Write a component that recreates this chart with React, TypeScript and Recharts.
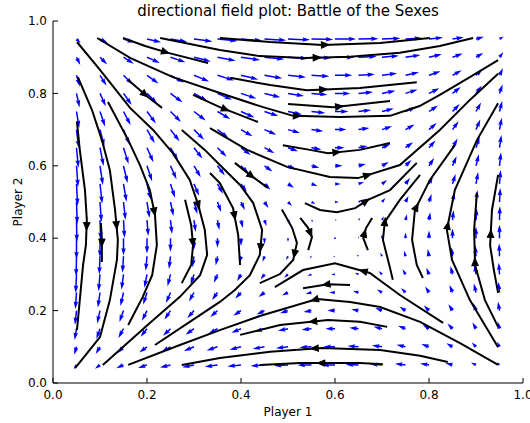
import React from 'react';
import { ScatterChart, Scatter, XAxis, YAxis, Label } from 'recharts';

// quiver grid
const gridX = [0.05, 0.1, 0.15, 0.2, 0.25, 0.3, 0.35, 0.4, 0.45, 0.5, 0.55, 0.6, 0.65, 0.7, 0.75, 0.8, 0.85, 0.9, 0.95];
const gridY = [0.05, 0.1, 0.15, 0.2, 0.25, 0.3, 0.35, 0.4, 0.45, 0.5, 0.55, 0.6, 0.65, 0.7, 0.75, 0.8, 0.85, 0.9, 0.95];

// Battle of the Sexes payoffs (row = own strategy, col = opponent strategy)
const player1Payoff = [[3, 0], [0, 2]];
const player2Payoff = [[2, 0], [0, 3]];

const axisTicks = [0, 0.2, 0.4, 0.6, 0.8, 1.0];

// streamlines, points listed in flow direction
const streamTop0 = [[0.355, 0.953], [0.462, 0.942], [0.574, 0.934], [0.696, 0.939], [0.802, 0.953]];
const streamTop1 = [[0.228, 0.953], [0.355, 0.92], [0.44, 0.903], [0.536, 0.898], [0.632, 0.901], [0.738, 0.912], [0.823, 0.931], [0.894, 0.953]];
const streamTop2 = [[0.149, 0.953], [0.196, 0.931], [0.245, 0.912], [0.33, 0.884]];
const streamTop3 = [[0.094, 0.953], [0.164, 0.898], [0.255, 0.845], [0.355, 0.801], [0.447, 0.762], [0.511, 0.738], [0.611, 0.735], [0.717, 0.738], [0.78, 0.765], [0.823, 0.796], [0.887, 0.845], [0.947, 0.892]];
const streamUpA = [[0.377, 0.843], [0.462, 0.823], [0.54, 0.809], [0.653, 0.815], [0.774, 0.831]];
const streamUpB = [[0.5, 0.771], [0.596, 0.762], [0.717, 0.779]];
const streamUpC = [[0.298, 0.796], [0.355, 0.762], [0.436, 0.721]];
const streamUpD = [[0.16, 0.837], [0.202, 0.79], [0.232, 0.76]];
const streamUpE = [[0.334, 0.704], [0.413, 0.644], [0.498, 0.597], [0.589, 0.569], [0.649, 0.566], [0.738, 0.602], [0.823, 0.699], [0.887, 0.782], [0.947, 0.854]];
const streamUpF = [[0.489, 0.657], [0.547, 0.644], [0.585, 0.635], [0.653, 0.644], [0.717, 0.663]];
const streamUpG = [[0.536, 0.497], [0.568, 0.478], [0.604, 0.472], [0.643, 0.483], [0.67, 0.506], [0.717, 0.533], [0.774, 0.608]];
const streamUpH = [[0.387, 0.608], [0.419, 0.575], [0.457, 0.539]];

const streamLeft1 = [[0.051, 0.721], [0.057, 0.644], [0.068, 0.533], [0.072, 0.45], [0.07, 0.381], [0.064, 0.326], [0.057, 0.229], [0.051, 0.146]];
const streamLeft2 = [[0.102, 0.442], [0.104, 0.395], [0.104, 0.334]];
const streamLeft3 = [[0.053, 0.845], [0.083, 0.754], [0.104, 0.671], [0.121, 0.588], [0.132, 0.478], [0.138, 0.395], [0.136, 0.34], [0.121, 0.229], [0.1, 0.127], [0.047, 0.041]];
const streamLeft4 = [[0.117, 0.776], [0.16, 0.671], [0.185, 0.602], [0.206, 0.533], [0.217, 0.464], [0.221, 0.381], [0.211, 0.298], [0.191, 0.238], [0.16, 0.16]];
const streamLeft5 = [[0.051, 0.942], [0.1, 0.865], [0.164, 0.76], [0.213, 0.699], [0.255, 0.635], [0.291, 0.561], [0.309, 0.492], [0.323, 0.423], [0.328, 0.354], [0.313, 0.298], [0.27, 0.238], [0.206, 0.166], [0.106, 0.05]];
const streamLeft6 = [[0.281, 0.506], [0.294, 0.436], [0.298, 0.381], [0.294, 0.326], [0.274, 0.276]];
const streamLeft7 = [[0.274, 0.699], [0.323, 0.644], [0.355, 0.602], [0.398, 0.547], [0.426, 0.497], [0.445, 0.423], [0.44, 0.354], [0.419, 0.298], [0.387, 0.257], [0.355, 0.224], [0.291, 0.169], [0.217, 0.105]];
const streamLeft8 = [[0.334, 0.58], [0.355, 0.552], [0.383, 0.483], [0.394, 0.409], [0.398, 0.326]];
const streamLeft9 = [[0.487, 0.479], [0.509, 0.428], [0.519, 0.387], [0.511, 0.34], [0.483, 0.301], [0.44, 0.276]];
const streamLeft10 = [[0.526, 0.456], [0.543, 0.428], [0.551, 0.403], [0.543, 0.367]];

const streamRight1 = [[0.67, 0.367], [0.66, 0.401], [0.666, 0.428], [0.679, 0.456]];
const streamRight2 = [[0.723, 0.285], [0.717, 0.318], [0.702, 0.395], [0.706, 0.445], [0.738, 0.506], [0.781, 0.575]];
const streamRight3 = [[0.787, 0.29], [0.774, 0.326], [0.764, 0.395], [0.77, 0.478], [0.802, 0.561], [0.855, 0.657]];
const streamRight4 = [[0.947, 0.099], [0.887, 0.229], [0.849, 0.34], [0.838, 0.423], [0.855, 0.533], [0.902, 0.671], [0.947, 0.773]];
const streamRight5 = [[0.947, 0.155], [0.919, 0.229], [0.898, 0.326], [0.896, 0.423], [0.902, 0.525]];
const streamRight6 = [[0.947, 0.249], [0.938, 0.312], [0.93, 0.381], [0.934, 0.478], [0.947, 0.575]];

const streamLow1 = [[0.83, 0.166], [0.738, 0.243], [0.674, 0.304], [0.6, 0.331], [0.532, 0.312], [0.472, 0.265]];
const streamLow2 = [[0.632, 0.271], [0.585, 0.273], [0.532, 0.262]];
const streamLow3 = [[0.947, 0.05], [0.866, 0.11], [0.781, 0.169], [0.696, 0.21], [0.632, 0.224], [0.562, 0.232], [0.44, 0.185], [0.355, 0.146], [0.27, 0.105], [0.16, 0.05]];
const streamLow4 = [[0.711, 0.155], [0.653, 0.169], [0.585, 0.174], [0.483, 0.16], [0.398, 0.133]];
const streamLow5 = [[0.84, 0.058], [0.781, 0.075], [0.696, 0.091], [0.572, 0.097], [0.462, 0.086], [0.355, 0.069], [0.274, 0.05]];
const streamLow6 = [[0.702, 0.052], [0.653, 0.055], [0.585, 0.055], [0.526, 0.055], [0.44, 0.05]];

const streamlines = [
    streamTop0, streamTop1, streamTop2, streamTop3,
    streamUpA, streamUpB, streamUpC, streamUpD, streamUpE, streamUpF, streamUpG, streamUpH,
    streamLeft1, streamLeft2, streamLeft3, streamLeft4, streamLeft5, streamLeft6, streamLeft7, streamLeft8, streamLeft9, streamLeft10,
    streamRight1, streamRight2, streamRight3, streamRight4, streamRight5, streamRight6,
    streamLow1, streamLow2, streamLow3, streamLow4, streamLow5, streamLow6,
];

const TITLE = 'directional field plot: Battle of the Sexes';

// layout
const WIDTH = 530;
const HEIGHT = 423;
const PLOT_W = 470;
const PLOT_H = 362;
const TICK_LEN = 5;
const QUIVER_SCALE = 32; // px per unit speed
const SHAFT = 1.5;

// replicator dynamics on the grid
const quiverData = gridX.flatMap(x => gridY.map(y => {
    const f1 = (player1Payoff[0][0] * y + player1Payoff[0][1] * (1 - y)) - (player1Payoff[1][0] * y + player1Payoff[1][1] * (1 - y));
    const f2 = (player2Payoff[0][0] * x + player2Payoff[1][0] * (1 - x)) - (player2Payoff[0][1] * x + player2Payoff[1][1] * (1 - x));
    return { x, y, u: x * (1 - x) * f1, v: y * (1 - y) * f2 };
}));

const lineData = streamlines.map(pts => pts.map(([x, y]) => ({ x, y })));

// arrow at the middle of each streamline (arc length in pixels)
const headData = streamlines.map(pts => {
    const seg = pts.slice(1).map((p, i) => Math.hypot((p[0] - pts[i][0]) * PLOT_W, (p[1] - pts[i][1]) * PLOT_H));
    let half = seg.reduce((a, b) => a + b, 0) / 2;
    let i = 0;
    while (i < seg.length - 1 && half > seg[i]) { half -= seg[i]; i++; }
    const t = seg[i] ? half / seg[i] : 0;
    const [x0, y0] = pts[i];
    const [x1, y1] = pts[i + 1];
    return { x: x0 + (x1 - x0) * t, y: y0 + (y1 - y0) * t, dx: x1 - x0, dy: y1 - y0 };
});

const Nothing = () => <g />;

const QuiverArrow = (props: any) => {
    const { cx, cy, payload } = props;
    const dx = payload.u * QUIVER_SCALE;
    const dy = -payload.v * QUIVER_SCALE;
    const len = Math.hypot(dx, dy);
    if (len < SHAFT) return <circle cx={cx} cy={cy} r={0.9} fill="#0000ff" />;
    const hl = 5 * SHAFT, hal = 4.5 * SHAFT, hw = 3 * SHAFT;
    const L = Math.max(len, hl);
    const s = len / L;
    const pts = [[0, -SHAFT / 2], [L - hal, -SHAFT / 2], [L - hl, -hw / 2], [L, 0], [L - hl, hw / 2], [L - hal, SHAFT / 2], [0, SHAFT / 2]]
        .map(([a, b]) => `${a * s},${b * s}`).join(' ');
    const ang = Math.atan2(dy, dx) * 180 / Math.PI;
    return <polygon points={pts} transform={`translate(${cx},${cy}) rotate(${ang})`} fill="#0000ff" />;
};

const StreamHead = (props: any) => {
    const { cx, cy, payload } = props;
    const ang = Math.atan2(-payload.dy * PLOT_H, payload.dx * PLOT_W) * 180 / Math.PI;
    return <polygon points="-3.5,-3.2 4,0 -3.5,3.2" transform={`translate(${cx},${cy}) rotate(${ang})`} fill="#000" stroke="#000" strokeWidth={1} />;
};

const fmt = (v: number) => v.toFixed(1);

const BottomTick = ({ x, y, payload }: any) => (
    <g>
        <line x1={x} x2={x} y1={y - 7} y2={y - 7 - TICK_LEN} stroke="#000" />
        <text x={x} y={y} dy="0.71em" textAnchor="middle" fill="#000" fontSize={12}>{fmt(payload.value)}</text>
    </g>
);

const LeftTick = ({ x, y, payload }: any) => (
    <g>
        <line x1={x + 6} x2={x + 6 + TICK_LEN} y1={y} y2={y} stroke="#000" />
        <text x={x} y={y} dy="0.355em" textAnchor="end" fill="#000" fontSize={12}>{fmt(payload.value)}</text>
    </g>
);

const TopTick = ({ x, y }: any) => <line x1={x} x2={x} y1={y} y2={y + TICK_LEN} stroke="#000" />;
const RightTick = ({ x, y }: any) => <line x1={x} x2={x - TICK_LEN} y1={y} y2={y} stroke="#000" />;

export default function App() {
    return (
        <div style={{ position: 'absolute', left: 0, top: 0, width: WIDTH, height: HEIGHT, background: '#fff', fontFamily: 'DejaVu Sans', fontSize: 12 }}>
            <ScatterChart width={WIDTH} height={HEIGHT} margin={{ top: 21, right: 7, bottom: 0, left: 0 }}>
                <XAxis dataKey="x" type="number" domain={[0, 1]} ticks={axisTicks} height={40}
                    axisLine={{ stroke: '#000' }} tickLine={false} tickSize={0} tickMargin={7} tick={BottomTick} interval={0}>
                    <Label value="Player 1" position="insideBottom" offset={7} style={{ fill: '#000', fontSize: 12 }} />
                </XAxis>
                <XAxis xAxisId="top" orientation="top" dataKey="x" type="number" domain={[0, 1]} ticks={axisTicks} height={0}
                    axisLine={{ stroke: '#000' }} tickLine={false} tickSize={0} tickMargin={0} tick={TopTick} interval={0} />
                <YAxis dataKey="y" type="number" domain={[0, 1]} ticks={axisTicks} width={53}
                    axisLine={{ stroke: '#000' }} tickLine={false} tickSize={0} tickMargin={6} tick={LeftTick} interval={0}>
                    <Label value="Player 2" angle={-90} position="insideLeft" offset={18} style={{ fill: '#000', fontSize: 12, textAnchor: 'middle' }} />
                </YAxis>
                <YAxis yAxisId="right" orientation="right" dataKey="y" type="number" domain={[0, 1]} ticks={axisTicks} width={0}
                    axisLine={{ stroke: '#000' }} tickLine={false} tickSize={0} tickMargin={0} tick={RightTick} interval={0} />

                <Scatter data={quiverData} shape={QuiverArrow} isAnimationActive={false} />
                {lineData.map((pts, i) => (
                    <Scatter key={i} data={pts} line={{ stroke: '#000', strokeWidth: 2 }} lineType="joint" shape={Nothing} isAnimationActive={false} />
                ))}
                <Scatter data={headData} shape={StreamHead} isAnimationActive={false} />
            </ScatterChart>
            <svg width={WIDTH} height={20} style={{ position: 'absolute', left: 0, top: 0, pointerEvents: 'none' }}>
                <text x={288} y={15.5} textAnchor="middle" fill="#000" fontSize={15}>{TITLE}</text>
            </svg>
        </div>
    );
}
